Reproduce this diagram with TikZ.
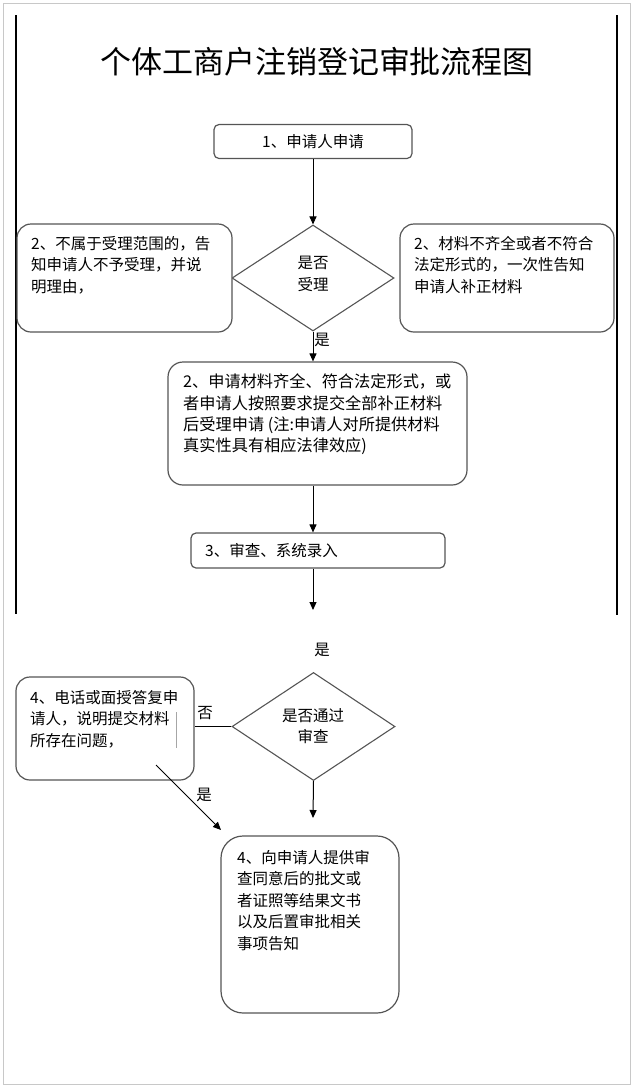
\documentclass[tikz,border=0pt]{standalone}
\usepackage{fontspec}
\setmainfont{Noto Sans CJK SC}
\usetikzlibrary{shapes.geometric,arrows.meta}
\definecolor{boxgray}{RGB}{85,85,85}
\definecolor{framegray}{RGB}{200,200,200}
\begin{document}
\begin{tikzpicture}[x=1pt,y=-1pt,
  box/.style={draw=boxgray, line width=1.2pt, rounded corners=#1, inner sep=0pt, fill=white},
  box/.default=5pt,
  dia/.style={draw=boxgray, line width=1.1pt, diamond, inner sep=0pt, aspect=1.5},
  txt/.style={inner sep=0pt, align=left, font=\fontsize{15.5}{21.5}\selectfont},
  lbl/.style={inner sep=0pt, font=\fontsize{15.5}{18}\selectfont},
  arr/.style={draw=black, line width=1pt, -{Triangle[length=8pt,width=7pt]}},
  ln/.style={draw=black, line width=1pt}
]
\useasboundingbox (0,0) rectangle (634,1088);
% frame
\draw[framegray, line width=1.5pt] (3.5,3.5) rectangle (630.5,1084.5);
\draw[black, line width=1.5pt] (16,15) -- (16,614);
\draw[black, line width=1.5pt] (617,15) -- (617,615);
% title
\node[inner sep=0pt, font=\fontsize{31}{36}\selectfont] (title) at (317,62) {个体工商户注销登记审批流程图};
% boxes
\node[box=5pt, minimum width=198pt, minimum height=34pt] (b1) at (313,141.5) {};
\node[txt] (t1) at (b1.center) {1、申请人申请};
\node[dia, minimum width=162pt, minimum height=106pt] (d1) at (313,278) {};
\node[txt, align=center] (d1t) at (313,274) {是否\\受理};
\node[box=14pt, minimum width=215pt, minimum height=108pt] (bA) at (124.5,278) {};
\node[txt, anchor=north west] (tA) at (31,236) {2、不属于受理范围的，告\\知申请人不予受理，并说\\明理由，};
\node[box=14pt, minimum width=214pt, minimum height=108pt] (bB) at (507,278) {};
\node[txt, anchor=north west] (tB) at (414,236) {2、材料不齐全或者不符合\\法定形式的，一次性告知\\申请人补正材料};
\node[box=15pt, minimum width=299pt, minimum height=123pt] (b2) at (317.5,423.5) {};
\node[txt, anchor=north west, font=\fontsize{16.2}{21.3}\selectfont] (t2) at (183,374) {2、申请材料齐全、符合法定形式，或\\者申请人按照要求提交全部补正材料\\后受理申请 (注:申请人对所提供材料\\真实性具有相应法律效应)};
\node[box=5pt, minimum width=254pt, minimum height=35pt] (b3) at (318,550.5) {};
\node[txt, anchor=west] (t3) at (205,551) {3、审查、系统录入};
\coordinate (c1) at (313,610);
\node[lbl] (l1) at (322,340) {是};
\node[lbl] (l2) at (322,650) {是};
\node[dia, minimum width=163pt, minimum height=108pt] (d2) at (313.5,726.5) {};
\node[txt, align=center] (d2t) at (313,726) {是否通过\\审查};
\node[box=14pt, minimum width=178pt, minimum height=103pt] (b4) at (105,728.5) {};
\node[txt, anchor=north west] (t4) at (30,690) {4、电话或面授答复申\\请人，说明提交材料\\所存在问题，};
\draw[gray!70, line width=1pt] (176,712) -- (176,748);
\node[lbl] (l3) at (205,713) {否};
\coordinate (c2) at (156,765);
\coordinate (c3) at (221,830);
\node[lbl] (l4) at (204,795) {是};
\coordinate (c4) at (313,818);
\node[box=22pt, minimum width=178pt, minimum height=177pt] (b5) at (310,924.5) {};
\node[txt, anchor=north west] (t5) at (237,850) {4、向申请人提供审\\查同意后的批文或\\者证照等结果文书\\以及后置审批相关\\事项告知};
% connectors
\draw[arr] (b1.south -| d1) -- (d1.north);
\draw[arr] (d1.south) -- (d1.south |- b2.north);
\draw[arr] (d1.south |- b2.south) -- (d1.south |- b3.north);
\draw[arr] (d1.south |- b3.south) -- (c1);
\draw[ln] (d2.west) -- (d2.west -| b4.east);
\draw[arr] (c2) -- (c3);
\draw[arr] (d2.south) -- (c4);
\end{tikzpicture}
\end{document}
